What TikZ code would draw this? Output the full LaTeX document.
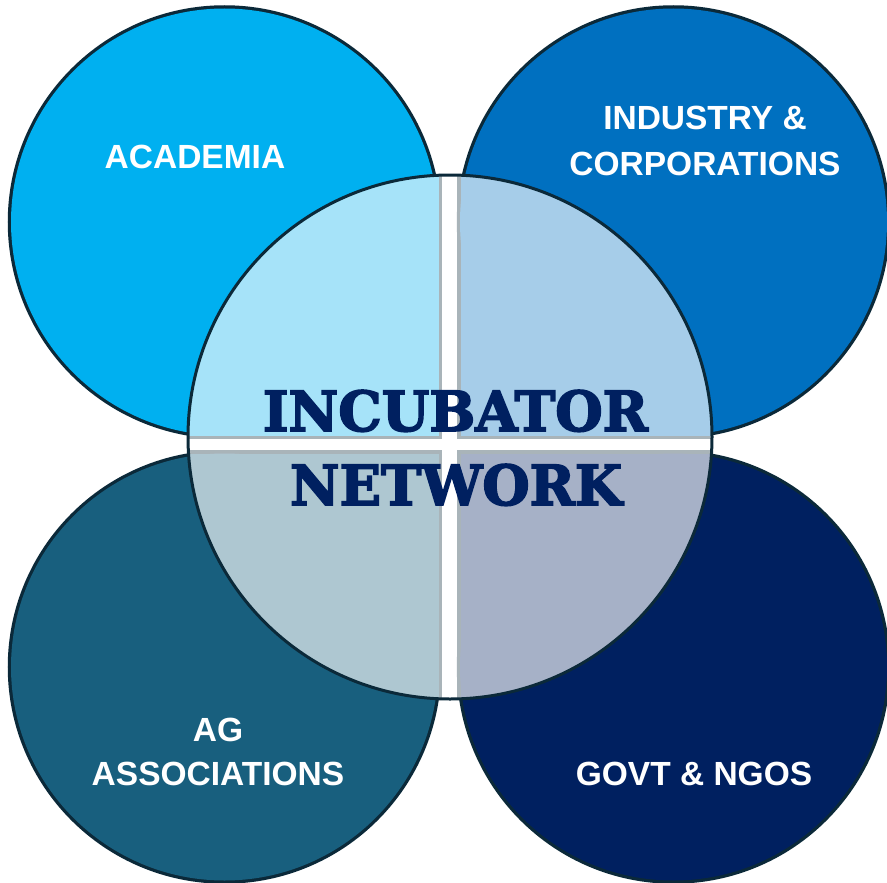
\documentclass[tikz,border=0pt]{standalone}
\usepackage{fontspec}
\usepackage{graphicx}
\setmainfont{Liberation Sans}
\newfontfamily\slabfont{DejaVu Serif Bold}[FakeBold=3]
\begin{document}
\begin{tikzpicture}[x=1pt,y=-1pt]
  \definecolor{rimdark}{HTML}{0B2939}
  \definecolor{academia}{HTML}{00B0F0}
  \definecolor{industry}{HTML}{0070C0}
  \definecolor{agassoc}{HTML}{185F7E}
  \definecolor{govt}{HTML}{002060}
  \definecolor{hubnavy}{HTML}{002060}
  \tikzset{
    rim/.style={draw=rimdark, line width=6.5pt},
    hubdisc/.style={fill=white, fill opacity=0.65, draw=rimdark, line width=3pt},
    hubtext/.style={anchor=base, inner sep=0pt, text=hubnavy, font=\slabfont},
    lbl/.style={anchor=base, inner sep=0pt, text=white, align=center,
                font=\bfseries\fontsize{33.5}{46}\selectfont},
  }
  % #1 circle centre, #2 colour, #3/#4 corners of the quadrant box inside the hub
  \newcommand\drawpetal[4]{%
    \draw[rim] (#1) circle[radius=213.5pt];
    \begin{scope}
      \clip (hub) circle[radius=262pt];
      \draw[rim] (#3) rectangle (#4);
    \end{scope}
    \fill[#2] (#1) circle[radius=213.5pt];
    \begin{scope}
      \clip (hub) circle[radius=262pt];
      \fill[#2] (#3) rectangle (#4);
    \end{scope}
  }

  \useasboundingbox (0,0) rectangle (887,883);
  \clip (0,0) rectangle (887,883);
  \fill[white] (0,0) rectangle (887,883);
  \coordinate (hub) at (450,437);

  % four stakeholder petals
  \drawpetal{224.5,222}{academia}{0,0}{438.5,436}
  \drawpetal{673.5,222}{industry}{460.5,0}{900,436}
  \drawpetal{224.5,667}{agassoc}{0,453.5}{438.5,900}
  \drawpetal{673.5,667}{govt}{460.5,453.5}{900,900}

  % translucent hub
  \filldraw[hubdisc] (hub) circle[radius=262pt];

  % hub title
  \node[hubtext] (inc) at (455.5,431) {\resizebox{385pt}{41pt}{INCUBATOR}};
  \node[hubtext] (net) at (456,505) {\resizebox{332pt}{41pt}{NETWORK}};

  % petal labels (base anchor sits on the last line)
  \node[lbl] (aca) at (195,168) {ACADEMIA};
  \node[lbl] (ind) at (705,175) {INDUSTRY \&\\CORPORATIONS};
  \node[lbl] (ag)  at (218,785) {AG\\[-2pt]ASSOCIATIONS};
  \node[lbl] (gov) at (694,785) {GOVT \& NGOS};
\end{tikzpicture}
\end{document}
